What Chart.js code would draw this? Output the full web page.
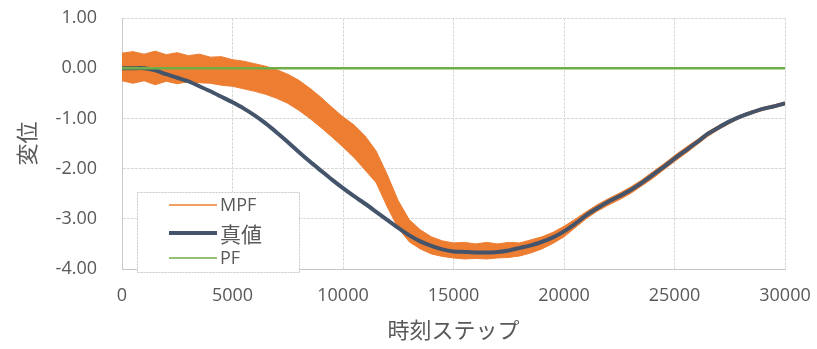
<!DOCTYPE html>
<html>
<head>
<meta charset="utf-8">
<script src="https://cdn.jsdelivr.net/npm/chart.js@4/dist/chart.umd.min.js"></script>
<style>
  body { margin: 0; background: #fff; }
  #wrap { width: 817px; height: 349px; }
</style>
</head>
<body>
<div id="wrap"><canvas id="chart"></canvas></div>
<script>
// time steps, every 500
const steps = [0, 500, 1000, 1500, 2000, 2500, 3000, 3500, 4000, 4500,
  5000, 5500, 6000, 6500, 7000, 7500, 8000, 8500, 9000, 9500,
  10000, 10500, 11000, 11500, 12000, 12500, 13000, 13500, 14000, 14500,
  15000, 15500, 16000, 16500, 17000, 17500, 18000, 18500, 19000, 19500,
  20000, 20500, 21000, 21500, 22000, 22500, 23000, 23500, 24000, 24500,
  25000, 25500, 26000, 26500, 27000, 27500, 28000, 28500, 29000, 29500, 30000];

// true displacement
const trueValues = [0, 0, 0, -0.04, -0.12, -0.19, -0.26, -0.36, -0.46, -0.57,
  -0.68, -0.80, -0.94, -1.10, -1.28, -1.47, -1.67, -1.86, -2.04, -2.22,
  -2.39, -2.55, -2.70, -2.86, -3.02, -3.18, -3.33, -3.45, -3.54, -3.61,
  -3.65, -3.66, -3.67, -3.67, -3.66, -3.63, -3.58, -3.53, -3.46, -3.37,
  -3.25, -3.10, -2.93, -2.79, -2.66, -2.55, -2.43, -2.29, -2.13, -1.97,
  -1.80, -1.64, -1.48, -1.31, -1.18, -1.06, -0.96, -0.88, -0.81, -0.76, -0.70];

// MPF estimate: upper and lower edge of its noisy band
const mpfUpper = [0.30, 0.33, 0.28, 0.34, 0.27, 0.31, 0.25, 0.28, 0.22, 0.23,
  0.17, 0.14, 0.09, 0.04, -0.03, -0.12, -0.24, -0.40, -0.58, -0.78,
  -0.97, -1.13, -1.35, -1.65, -2.12, -2.64, -3.02, -3.22, -3.36, -3.44,
  -3.48, -3.47, -3.50, -3.47, -3.50, -3.47, -3.48, -3.42, -3.36, -3.27,
  -3.15, -3.01, -2.86, -2.72, -2.60, -2.49, -2.37, -2.23, -2.07, -1.91,
  -1.74, -1.58, -1.43, -1.27, -1.14, -1.03, -0.93, -0.85, -0.78, -0.73, -0.67];
const mpfLower = [-0.25, -0.30, -0.25, -0.33, -0.26, -0.31, -0.27, -0.29, -0.30, -0.34,
  -0.36, -0.41, -0.46, -0.52, -0.60, -0.70, -0.84, -1.00, -1.18, -1.37,
  -1.57, -1.78, -2.03, -2.28, -2.76, -3.19, -3.46, -3.60, -3.70, -3.75,
  -3.78, -3.80, -3.79, -3.80, -3.78, -3.77, -3.74, -3.68, -3.60, -3.49,
  -3.36, -3.18, -3.00, -2.85, -2.73, -2.62, -2.50, -2.35, -2.20, -2.03,
  -1.86, -1.70, -1.53, -1.36, -1.22, -1.10, -0.99, -0.91, -0.84, -0.79, -0.73];

// PF estimate
const pfValues = [0, 0, 0, 0, 0, 0, 0, 0, 0, 0,
  0, 0, 0, 0, 0, 0, 0, 0, 0, 0,
  0, 0, 0, 0, 0, 0, 0, 0, 0, 0,
  0, 0, 0, 0, 0, 0, 0, 0, 0, 0,
  0, 0, 0, 0, 0, 0, 0, 0, 0, 0,
  0, 0, 0, 0, 0, 0, 0, 0, 0, 0, 0];

const orange = '#ed7d31';
const navy = '#44546a';
const green = '#70ad47';
const textGray = '#595959';

function toPoints(vals) {
  return steps.map(function (s, i) { return { x: s, y: vals[i] }; });
}

const legendItems = [
  { label: 'MPF', color: orange, width: 1.5, font: '18px "Open Sans", sans-serif' },
  { label: '真値', color: navy, width: 4, font: '21px "Noto Sans CJK JP", sans-serif' },
  { label: 'PF', color: green, width: 1.5, font: '18px "Open Sans", sans-serif' }
];

// legend box sitting inside the plot, lower left
const legendBox = {
  id: 'legendBox',
  afterDatasetsDraw(chart) {
    const ctx = chart.ctx;
    const area = chart.chartArea;
    const bx = area.left + 15;
    const by = area.bottom - 77;
    ctx.save();
    ctx.fillStyle = '#ffffff';
    ctx.fillRect(bx, by, 162, 80);
    ctx.strokeStyle = '#c8c8c8';
    ctx.lineWidth = 1;
    ctx.setLineDash([2, 1]);
    ctx.strokeRect(bx + 0.5, by + 0.5, 162, 80);
    ctx.setLineDash([]);
    const rows = [13, 41, 66];
    legendItems.forEach(function (item, i) {
      const ly = by + rows[i];
      ctx.strokeStyle = item.color;
      ctx.lineWidth = item.width;
      ctx.beginPath();
      ctx.moveTo(bx + 32, ly);
      ctx.lineTo(bx + 80, ly);
      ctx.stroke();
      ctx.fillStyle = textGray;
      ctx.font = item.font;
      ctx.textBaseline = 'middle';
      ctx.fillText(item.label, bx + 83, ly + 1);
    });
    ctx.restore();
  }
};

new Chart(document.getElementById('chart'), {
  type: 'line',
  data: {
    datasets: [
      {
        label: 'MPF',
        data: toPoints(mpfUpper),
        borderColor: orange,
        backgroundColor: orange,
        borderWidth: 1,
        pointRadius: 0,
        fill: '+1',
        order: 4
      },
      {
        label: 'MPF_low',
        data: toPoints(mpfLower),
        borderColor: orange,
        borderWidth: 1,
        pointRadius: 0,
        fill: false,
        order: 3
      },
      {
        label: '真値',
        data: toPoints(trueValues),
        borderColor: navy,
        borderWidth: 4,
        pointRadius: 0,
        tension: 0.2,
        fill: false,
        order: 2
      },
      {
        label: 'PF',
        data: toPoints(pfValues),
        borderColor: green,
        borderWidth: 2.5,
        pointRadius: 0,
        fill: false,
        order: 1
      }
    ]
  },
  options: {
    responsive: true,
    maintainAspectRatio: false,
    animation: false,
    layout: { padding: { top: 18, right: 32, left: 0, bottom: 0 } },
    plugins: {
      legend: { display: false },
      tooltip: { enabled: false }
    },
    scales: {
      x: {
        type: 'linear',
        min: 0,
        max: 30000,
        ticks: {
          stepSize: 5000,
          color: textGray,
          font: { family: 'Open Sans', size: 18 },
          padding: 16,
          maxRotation: 0,
          callback: function (v) { return String(v); }
        },
        grid: { color: '#d9d9d9', drawTicks: false },
        border: { color: '#c8c8c8', dash: [3, 1] },
        title: {
          display: true,
          text: '時刻ステップ',
          color: textGray,
          font: { family: 'Noto Sans CJK JP', size: 22 },
          padding: { top: 0, bottom: 6 }
        },
        afterFit: function (scale) {
          scale.height = 80;
          scale.paddingLeft = 0;
          scale.paddingRight = 0;
        }
      },
      y: {
        min: -4,
        max: 1,
        ticks: {
          stepSize: 1,
          color: textGray,
          font: { family: 'Open Sans', size: 18 },
          padding: 25,
          callback: function (v) { return v.toFixed(2); }
        },
        grid: { color: '#d9d9d9', drawTicks: false },
        border: { color: '#c8c8c8', dash: [3, 1] },
        title: {
          display: true,
          text: '変位',
          color: textGray,
          font: { family: 'Noto Sans CJK JP', size: 22 },
          padding: { top: 13, bottom: 0 }
        },
        afterFit: function (scale) {
          scale.width = 122;
          scale.paddingTop = 0;
          scale.paddingBottom = 0;
        }
      }
    }
  },
  plugins: [legendBox]
});
</script>
</body>
</html>
